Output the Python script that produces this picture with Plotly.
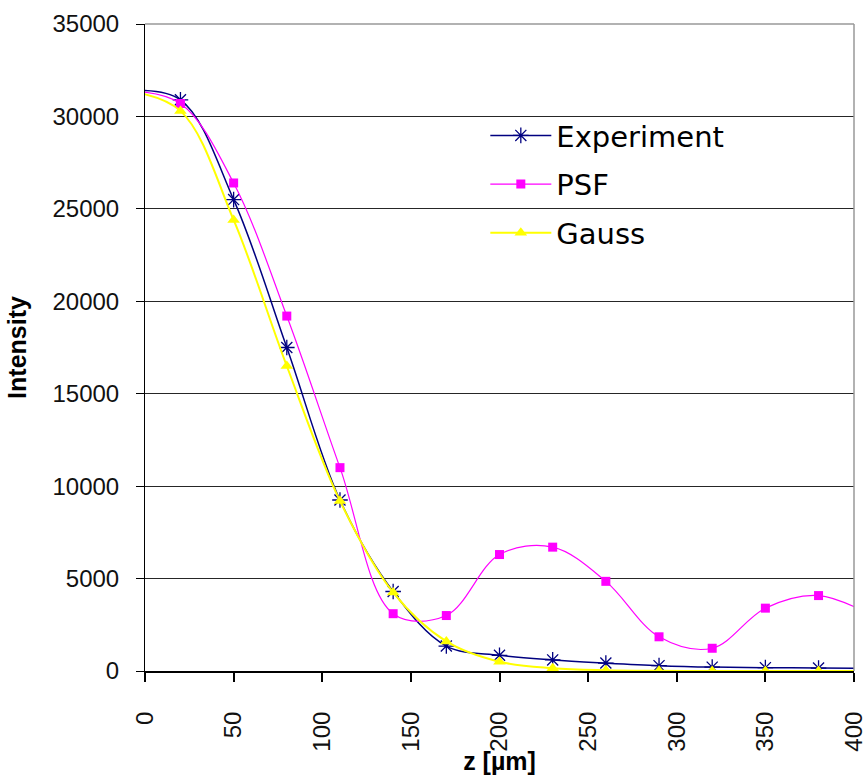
import plotly.graph_objects as go

# axial positions (µm) and measured / modelled intensities
z = [-10, 20, 50, 80, 110, 140, 170, 200, 230, 260, 290, 320, 350, 380, 410]
experiment = [31400, 30900, 25500, 17500, 9250, 4300, 1350, 850, 600, 430, 290, 210, 180, 160, 140]
psf = [31400, 30700, 26400, 19200, 11000, 3100, 3000, 6300, 6700, 4850, 1850, 1230, 3400, 4080, 3000]
gauss = [31400, 30300, 24400, 16500, 9200, 4250, 1600, 500, 150, 40, 10, 2, 0, 0, 0]

x_ticks = [0, 50, 100, 150, 200, 250, 300, 350, 400]
y_ticks = [0, 5000, 10000, 15000, 20000, 25000, 30000, 35000]

fig = go.Figure()

fig.add_trace(go.Scatter(
    x=z, y=experiment, name="Experiment", legendgroup="a",
    mode="lines+markers", line=dict(color="#000080", width=1.5, shape="spline", smoothing=1),
    marker=dict(symbol="asterisk-open", size=13, color="#000080", line=dict(color="#000080", width=1.3)),
))
fig.add_trace(go.Scatter(
    x=z, y=psf, name="PSF", legendgroup="b",
    mode="lines+markers", line=dict(color="#FF00FF", width=1.2, shape="spline", smoothing=1),
    marker=dict(symbol="square", size=9, color="#FF00FF"),
))
fig.add_trace(go.Scatter(
    x=z, y=gauss, name="Gauss", legendgroup="c",
    mode="lines+markers", line=dict(color="#FFFF00", width=2, shape="spline", smoothing=1),
    marker=dict(symbol="triangle-up", size=11, color="#FFFF00"),
))

fig.update_layout(
    width=864, height=775,
    margin=dict(l=145, r=10, t=24, b=104),
    paper_bgcolor="white", plot_bgcolor="white",
    font=dict(family="Liberation Sans, Arial, sans-serif", color="black"),
    showlegend=True,
    legend=dict(
        x=0.48, y=0.867, xanchor="left", yanchor="top",
        font=dict(family="DejaVu Sans, Verdana, sans-serif", size=29, color="black"),
        tracegroupgap=8, bgcolor="rgba(0,0,0,0)", itemwidth=61,
    ),
    xaxis=dict(
        range=[0, 400], tickvals=x_ticks, ticktext=[str(v) for v in x_ticks],
        tickangle=-90, tickfont=dict(size=24, color="#111"),
        ticks="outside", ticklen=9, tickcolor="black", tickwidth=1.5,
        ticklabelstandoff=20, ticklabeloverflow="allow",
        showgrid=False, zeroline=False, automargin=False,
        showline=True, linecolor="black", linewidth=2,
        title=dict(text="<b>z [µm]</b>", font=dict(size=25, color="black"), standoff=2),
    ),
    yaxis=dict(
        range=[0, 35000], tickvals=y_ticks, ticktext=[str(v) for v in y_ticks],
        tickfont=dict(size=24, color="#111"),
        ticks="outside", ticklen=8, tickcolor="black", tickwidth=1,
        ticklabelstandoff=12, automargin=False,
        showgrid=True, gridcolor="#262626", gridwidth=1,
        zeroline=False, showline=True, linecolor="black", linewidth=1,
        title=dict(text="<b>Intensity</b>", font=dict(size=25, color="black"), standoff=18),
    ),
    shapes=[
        dict(type="line", xref="paper", yref="paper", x0=1, x1=1, y0=0, y1=1,
             line=dict(color="#999999", width=1.5)),
        dict(type="line", xref="paper", yref="paper", x0=0, x1=1, y0=1, y1=1,
             line=dict(color="#999999", width=1.5)),
    ],
)

fig.write_html("out.html")
